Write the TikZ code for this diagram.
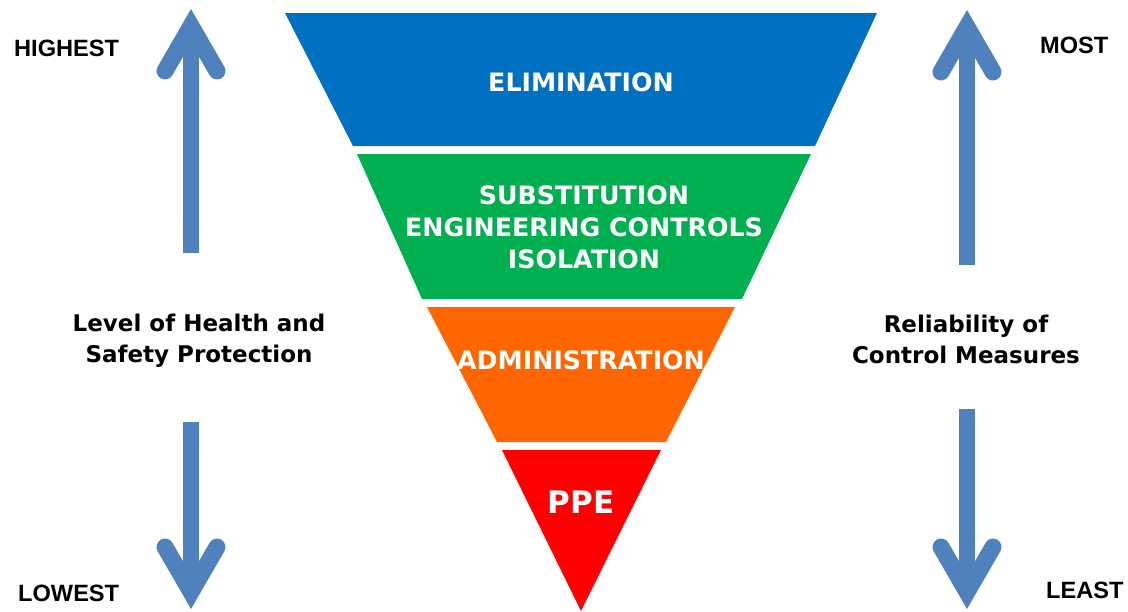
\documentclass[tikz,border=0pt]{standalone}
\usepackage{fontspec}
\setmainfont{DejaVu Sans}
\newfontfamily\capsfont{Liberation Sans}

\definecolor{bandblue}{HTML}{0070C0}
\definecolor{bandgreen}{HTML}{00B050}
\definecolor{bandorange}{HTML}{FF6600}
\definecolor{bandred}{HTML}{FF0000}
\definecolor{arrowblue}{HTML}{4F81BD}

\tikzset{
  bandtext/.style={text=white, font=\bfseries\fontsize{25.3}{32}\selectfont, align=center, inner sep=0pt},
  sidetext/.style={text=black, font=\bfseries\fontsize{23}{31}\selectfont, align=center, inner sep=0pt},
  endtext/.style={text=black, font=\capsfont\bfseries\fontsize{23.6}{26}\selectfont, inner sep=0pt},
  shaft/.style={draw=arrowblue, line width=16pt, line cap=butt},
  chevron/.style={draw=arrowblue, line width=17pt, line cap=round, line join=miter, miter limit=10},
}

% arrow pointing up: x, tip y, tail y
\newcommand\arrowup[3]{%
  \coordinate (tail) at (#1,#3);
  \coordinate (vtx) at (#1,#2+17);
  \coordinate (bl) at (#1-26,#2+62);
  \coordinate (br) at (#1+26,#2+62);
  \draw[shaft] (tail) -- (vtx);
  \draw[chevron] (bl) -- (vtx) -- (br);
}
% arrow pointing down: x, tip y, tail y
\newcommand\arrowdown[3]{%
  \coordinate (tail) at (#1,#3);
  \coordinate (vtx) at (#1,#2-17);
  \coordinate (bl) at (#1-26,#2-62);
  \coordinate (br) at (#1+26,#2-62);
  \draw[shaft] (tail) -- (vtx);
  \draw[chevron] (bl) -- (vtx) -- (br);
}

\begin{document}
\begin{tikzpicture}[x=1pt,y=-1pt]
\useasboundingbox (0,0) rectangle (1128,611);

% inverted triangle split into four bands
\fill[bandblue] (285,13) -- (877,13) -- (815,146) -- (353,146) -- cycle;
\fill[bandgreen] (357,154) -- (811,154) -- (742,299) -- (422,299) -- cycle;
\fill[bandorange] (427,307) -- (735,307) -- (666,442) -- (497,442) -- cycle;
\fill[bandred] (502,450) -- (661,450) -- (581,611) -- cycle;

% band labels
\node[bandtext] (elim) at (581,82) {ELIMINATION};
\node[bandtext] (subst) at (584,227) {SUBSTITUTION\\ENGINEERING CONTROLS\\ISOLATION};
\node[bandtext] (admin) at (581,360) {ADMINISTRATION};
\node[bandtext, font=\bfseries\fontsize{31}{36}\selectfont] (ppe) at (581,502) {PPE};

% side arrows
\arrowup{191}{9}{253}
\arrowdown{191}{609}{422}
\arrowup{967}{10}{265}
\arrowdown{967}{609}{409}

% side labels
\node[sidetext] (health) at (199,341) {Level of Health and\\Safety Protection};
\node[sidetext] (reliab) at (966,339) {Reliability of\\Control Measures};

\node[endtext, anchor=west] (highest) at (14,48) {HIGHEST};
\node[endtext, anchor=west] (lowest) at (18,593) {LOWEST};
\node[endtext, anchor=west] (most) at (1040,45) {MOST};
\node[endtext, anchor=west] (least) at (1046,590) {LEAST};
\end{tikzpicture}
\end{document}
